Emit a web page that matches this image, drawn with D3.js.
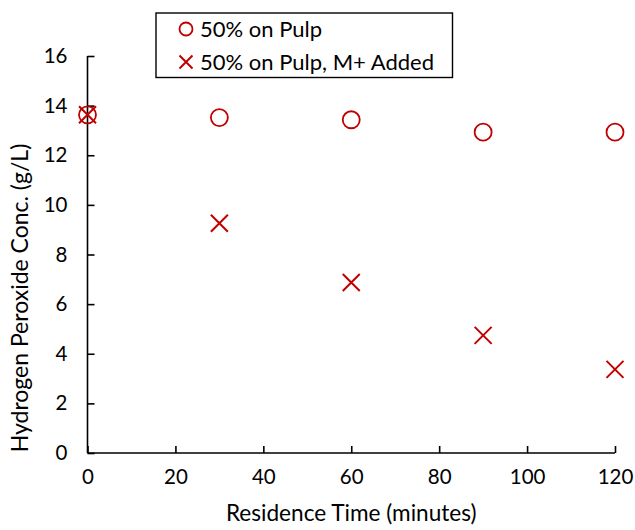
<!DOCTYPE html>
<html><head><meta charset="utf-8">
<script src="https://cdn.jsdelivr.net/npm/d3@7"></script>
<style>body{margin:0;background:#fff}svg{display:block}text{font-family:Lato,"Open Sans",sans-serif;fill:#000}</style>
</head><body>
<svg id="c" width="635" height="530"></svg>
<script>
const times = [0, 30, 60, 90, 120];
const pulp = [13.63, 13.52, 13.43, 12.93, 12.93];
const pulpMPlus = [13.63, 9.26, 6.87, 4.74, 3.37];
const seriesNames = ["50% on Pulp", "50% on Pulp, M+ Added"];
const xTicks = [0, 20, 40, 60, 80, 100, 120];
const yTicks = [0, 2, 4, 6, 8, 10, 12, 14, 16];
const xTitle = "Residence Time (minutes)";
const yTitle = "Hydrogen Peroxide Conc. (g/L)";
const red = "#c00000";

const svg = d3.select("#c");
const x = d3.scaleLinear().domain([0, 120]).range([87.5, 615]);
const y = d3.scaleLinear().domain([0, 16]).range([453, 56]);

const fs = 20.5;
const xAxis = svg.append("g").attr("transform", `translate(0,${y(0)})`)
  .call(d3.axisBottom(x).tickValues(xTicks).tickSizeInner(-7).tickSizeOuter(0).tickPadding(16));
const yAxis = svg.append("g").attr("transform", `translate(${x(0)},0)`)
  .call(d3.axisLeft(y).tickValues(yTicks).tickSizeInner(-7).tickSizeOuter(0).tickPadding(20));
[xAxis, yAxis].forEach(g => {
  g.selectAll("path,line").attr("stroke", "#000").attr("stroke-width", 1.6);
  g.selectAll("text").style("font-size", fs + "px").style("font-family", "Lato, sans-serif");
});
xAxis.select(".domain").attr("d", `M${x(0)},0H${x(120)}`);
yAxis.select(".domain").attr("d", `M0,${y(0)}V${y(16)}`);

svg.append("text").attr("x", x(60)).attr("y", 521).attr("text-anchor", "middle")
  .style("font-size", "22.6px").text(xTitle);
svg.append("text").attr("transform", `translate(28,${298}) rotate(-90)`).attr("text-anchor", "middle")
  .style("font-size", "23px").text(yTitle);

const r = 8.5;
function drawX(g, cx, cy) {
  g.append("path").attr("d", `M${cx - r},${cy - r}L${cx + r},${cy + r}M${cx - r},${cy + r}L${cx + r},${cy - r}`)
    .attr("stroke", red).attr("stroke-width", 2).attr("fill", "none");
}
const circ = svg.append("g");
times.forEach((t, i) => {
  circ.append("circle").attr("cx", x(t)).attr("cy", y(pulp[i])).attr("r", r)
    .attr("fill", "none").attr("stroke", red).attr("stroke-width", 1.8);
});
const xs = svg.append("g");
times.forEach((t, i) => drawX(xs, x(t), y(pulpMPlus[i])));

// legend
const lg = svg.append("g");
lg.append("rect").attr("x", 156).attr("y", 13).attr("width", 296.5).attr("height", 64.5)
  .attr("fill", "#fff").attr("stroke", "#000").attr("stroke-width", 1.4);
lg.append("circle").attr("cx", 186).attr("cy", 29).attr("r", 6.5).attr("fill", "none").attr("stroke", red).attr("stroke-width", 1.8);
lg.append("path").attr("d", "M179.5,55.5L192.5,68.5M179.5,68.5L192.5,55.5").attr("stroke", red).attr("stroke-width", 2);
lg.append("text").attr("x", 200).attr("y", 36.5).style("font-size", "22px").text(seriesNames[0]);
lg.append("text").attr("x", 200).attr("y", 69.5).style("font-size", "22px").text(seriesNames[1]);
</script>
</body></html>
